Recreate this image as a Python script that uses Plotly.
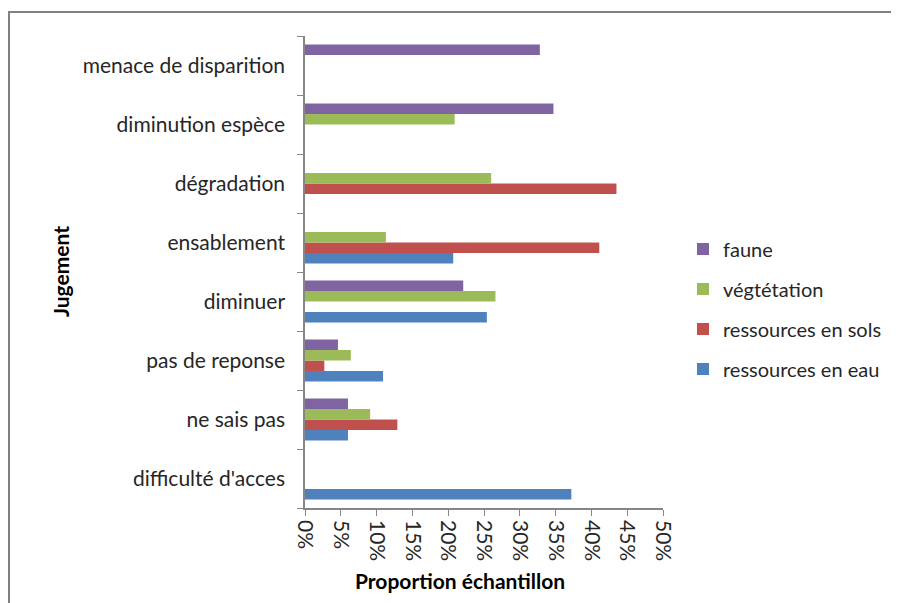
import plotly.graph_objects as go

categories = ["difficulté d'acces", "ne sais pas", "pas de reponse", "diminuer",
              "ensablement", "dégradation", "diminution espèce", "menace de disparition"]
faune = [None, 6.0, 4.6, 22.1, None, None, 34.7, 32.8]
vegetation = [None, 9.1, 6.4, 26.6, 11.3, 26.0, 20.9, None]
sols = [None, 12.9, 2.7, None, 41.1, 43.5, None, None]
eau = [37.2, 6.0, 10.9, 25.4, 20.7, None, None, None]
x_ticks = [0, 5, 10, 15, 20, 25, 30, 35, 40, 45, 50]
x_tick_labels = [f"{v}%" for v in x_ticks]

FONT = "Lato, 'Open Sans', sans-serif"

series = [
    ("ressources en eau", eau, "#4F81BD"),
    ("ressources en sols", sols, "#C0504D"),
    ("végtétation", vegetation, "#9BBB59"),
    ("faune", faune, "#8064A2"),
]

# page body has an 8px margin: figure size/margins compensate so the
# plot area spans x 305..663 and y 36..508 in the window
PX0, PX1, PY0, PY1 = 305, 663, 36, 508
PW, PH = PX1 - PX0, PY1 - PY0

fig = go.Figure()
for i, (name, vals, color) in enumerate(series):
    fig.add_trace(go.Bar(
        y=categories, x=vals, name=name, orientation="h",
        marker=dict(color=color, line=dict(width=0)),
        legendgroup=f"g{i}", legendrank=1000 - i,
    ))

def px(x):
    return (x - PX0) / PW

def py(y):
    return (PY1 - y) / PH

fig.update_layout(
    width=891, height=595,
    margin=dict(l=297, r=236, t=28, b=95, autoexpand=False),
    paper_bgcolor="white", plot_bgcolor="white",
    barmode="group", bargap=0.29, bargroupgap=0,
    font=dict(family=FONT, size=20, color="#262626"),
    showlegend=True,
    legend=dict(
        x=px(683), y=py(309), xanchor="left", yanchor="middle",
        traceorder="grouped", tracegroupgap=11,
        font=dict(size=20, color="#262626"),
        itemwidth=30,
    ),
    xaxis=dict(
        range=[0, 50], tickvals=x_ticks, ticktext=x_tick_labels,
        tickangle=90, tickfont=dict(size=21, color="#262626"),
        showgrid=False, zeroline=False,
        showline=True, linecolor="#868686", linewidth=1.5,
        ticks="outside", ticklen=6, tickcolor="#868686",
        title=dict(text=""),
    ),
    yaxis=dict(
        type="category", categoryorder="array", categoryarray=categories,
        showgrid=False, zeroline=False,
        showline=True, linecolor="#868686", linewidth=1.5,
        ticks="outside", ticklen=6, tickcolor="#868686", tickson="boundaries",
        tickfont=dict(size=21, color="#262626"),
        ticklabelstandoff=14,
        title=dict(text=""),
    ),
    annotations=[
        dict(text="<b>Proportion échantillon</b>", xref="paper", yref="paper",
             x=px(460), y=py(580), xanchor="center", yanchor="middle", showarrow=False,
             font=dict(size=21, color="#000000")),
        dict(text="<b>Jugement</b>", xref="paper", yref="paper", textangle=-90,
             x=px(60), y=py(272), xanchor="center", yanchor="middle", showarrow=False,
             font=dict(size=21, color="#000000")),
    ],
    shapes=[
        dict(type="line", xref="paper", yref="paper",
             x0=px(6), x1=px(905), y0=py(12), y1=py(12),
             line=dict(color="#808080", width=2)),
        dict(type="line", xref="paper", yref="paper",
             x0=px(9), x1=px(9), y0=py(12), y1=py(610),
             line=dict(color="#808080", width=2)),
    ],
)

fig.write_html("out.html")
